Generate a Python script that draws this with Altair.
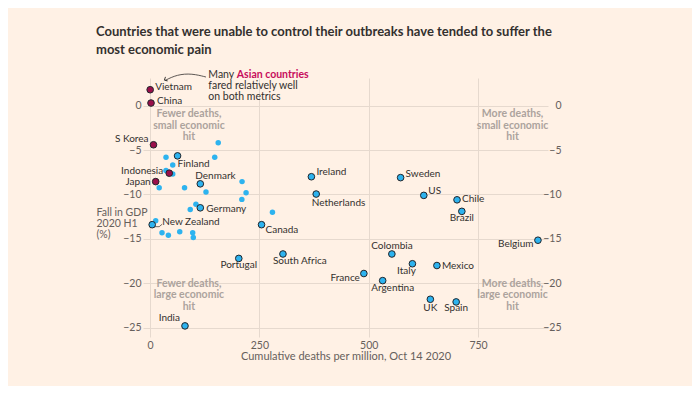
import altair as alt
import pandas as pd

# ---------------- data ----------------
countries = ["Vietnam", "China", "S Korea", "Japan", "Indonesia",
             "Finland", "Denmark", "Germany", "New Zealand", "Canada",
             "Portugal", "South Africa", "India", "Ireland", "Netherlands",
             "Sweden", "US", "Chile", "Brazil", "Belgium",
             "Colombia", "Italy", "Mexico", "France", "Argentina",
             "UK", "Spain"]
deaths = [0.4, 2.3, 8, 13, 44,
          63, 115, 115, 5, 255,
          203, 304, 80, 369, 380,
          573, 626, 702, 713, 887,
          553, 600, 656, 489, 532,
          641, 700]
gdp_fall = [1.8, 0.3, -4.4, -8.55, -7.6,
            -5.65, -8.8, -11.5, -13.4, -13.4,
            -17.2, -16.7, -24.8, -8.0, -9.95,
            -8.1, -10.1, -10.6, -11.9, -15.15,
            -16.7, -17.8, -18.0, -18.9, -19.7,
            -21.8, -22.1]
group = ["Asia"] * 5 + ["Other"] * 22

other_deaths = [156, 36.6, 148, 52, 36.6, 52, 21, 79, 128, 210.5,
                219.7, 210, 105, 92, 280, 13, 27.5, 42, 68, 97.6, 99]
other_gdp = [-4.17, -5.8, -5.8, -6.68, -7.3, -7.7, -9.23, -9.23, -9.72, -8.55,
             -9.8, -10.55, -11.1, -11.7, -12.0, -12.95, -14.3, -14.6, -14.2, -14.3, -14.85]

x_ticks = [0, 250, 500, 750]
y_ticks = [0, -5, -10, -15, -20, -25]

# label placement (align, dx px, dy px) -- styling, not data
label_pos = {
    "Vietnam": ("left", 5, -3), "China": ("left", 6, -2.5),
    "S Korea": ("right", -5, -5.5), "Japan": ("right", -5, 0),
    "Indonesia": ("right", -6, -2.5), "Finland": ("left", 0, 8),
    "Denmark": ("left", -5, -8), "Germany": ("left", 6, 1),
    "New Zealand": ("left", 10, -3), "Canada": ("left", 4, 5.5),
    "Portugal": ("center", 0, 7), "South Africa": ("left", -10, 7),
    "India": ("right", -5, -8), "Ireland": ("left", 5, -4.5),
    "Netherlands": ("left", -4.5, 8.5), "Sweden": ("left", 5, -4),
    "US": ("left", 4.5, -4), "Chile": ("left", 5, -1),
    "Brazil": ("center", 0, 7), "Belgium": ("right", -4.5, 4),
    "Colombia": ("center", 0, -7.5), "Italy": ("center", -6, 7),
    "Mexico": ("left", 5, 0), "France": ("right", -4, 4.5),
    "Argentina": ("center", 10, 7), "UK": ("center", 0, 8.5),
    "Spain": ("center", 0, 6.5),
}

# ---------------- layout ----------------
FONT = "Lato"
BG = "#fff1e5"
TEXT = "#33302e"
AXIS_TXT = "#66605c"
GRID = "#e6d9ce"
BLUE = "#2db3ef"
CLARET = "#990f4a"
PINK = "#c70d5b"
ANNOT = "#aca39d"

W, H = 405, 259
X_DOM = [-16, 910]
Y_DOM = [-26.05, 3.12]
KX = W / (X_DOM[1] - X_DOM[0])
KY = H / (Y_DOM[1] - Y_DOM[0])

xscale = alt.Scale(domain=X_DOM, nice=False, zero=False)
yscale = alt.Scale(domain=Y_DOM, nice=False, zero=False)

main = pd.DataFrame({"country": countries, "deaths": deaths, "gdp": gdp_fall, "group": group})
others = pd.DataFrame({"deaths": other_deaths, "gdp": other_gdp})

lab = main.copy()
lab["align"] = [label_pos[c][0] for c in lab.country]
lab["lx"] = [d + label_pos[c][1] / KX for c, d in zip(lab.country, lab.deaths)]
lab["ly"] = [g - label_pos[c][2] / KY for c, g in zip(lab.country, lab.gdp)]

x_axis = alt.Axis(values=x_ticks, grid=True, gridColor=GRID, ticks=False, domain=False,
                  orient="bottom",
                  labelColor=AXIS_TXT, labelFont=FONT, labelFontSize=10.5, labelPadding=3,
                  title="Cumulative deaths per million, Oct 14 2020", titleColor=AXIS_TXT,
                  titleFont=FONT, titleFontSize=11, titleFontWeight="normal", titlePadding=0)
y_left = alt.Axis(values=y_ticks, grid=True, gridColor=GRID, ticks=False, domain=False,
                  orient="left", labelColor=AXIS_TXT, labelFont=FONT, labelFontSize=10.5,
                  labelPadding=2,
                  title=["Fall in GDP", "2020 H1", "(%)"], titleAngle=0, titleAlign="left",
                  titleBaseline="top", titleX=-47, titleY=129, titleColor=AXIS_TXT,
                  titleFont=FONT, titleFontSize=10.5, titleFontWeight="normal",
                  titleLineHeight=11)
y_right = alt.Axis(values=y_ticks, grid=False, ticks=False, domain=False, orient="right",
                   labelColor=AXIS_TXT, labelFont=FONT, labelFontSize=10.5,
                   labelAlign="right", labelPadding=13, title=None)

def X(field, axis=None):
    return alt.X(field, type="quantitative", scale=xscale, axis=axis)

def Y(field, axis=None):
    return alt.Y(field, type="quantitative", scale=yscale, axis=axis)

# background points (unlabelled)
bg_pts = alt.Chart(others).mark_circle(size=30, color=BLUE, opacity=1).encode(
    x=X("deaths", x_axis), y=Y("gdp", y_left))

right_axis = alt.Chart(others).mark_circle(opacity=0).encode(
    x=X("deaths"), y=Y("gdp", y_right))

main_pts = alt.Chart(main).mark_point(filled=True, size=44, stroke="#20252b",
                                      strokeWidth=1, opacity=1).encode(
    x=X("deaths"), y=Y("gdp"),
    fill=alt.Fill("group:N", scale=alt.Scale(domain=["Asia", "Other"], range=[CLARET, BLUE]),
                  legend=None))

label_layers = []
for a in ["left", "center", "right"]:
    label_layers.append(
        alt.Chart(lab[lab["align"] == a]).mark_text(
            align=a, baseline="middle", font=FONT, fontSize=10, color=TEXT
        ).encode(x=X("lx"), y=Y("ly"), text="country:N"))

# quadrant annotations
quad = pd.DataFrame({
    "x": [89, 89, 829, 829],
    "y": [-0.42, -19.48, -0.42, -19.48],
    "t": ["Fewer deaths,\nsmall economic\nhit", "Fewer deaths,\nlarge economic\nhit",
          "More deaths,\nsmall economic\nhit", "More deaths,\nlarge economic\nhit"],
})
quad_txt = alt.Chart(quad).mark_text(
    align="center", baseline="top", lineBreak="\n", lineHeight=11.5, font=FONT,
    fontSize=10.5, fontWeight="bold", color=ANNOT
).encode(x=X("x"), y=Y("y"), text="t:N")

# Asian countries annotation
ann = pd.DataFrame({"x": [133.3], "y": [3.98], "t": ["Many\nfared relatively well\non both metrics"]})
ann_txt = alt.Chart(ann).mark_text(
    align="left", baseline="top", lineBreak="\n", lineHeight=10.8, font=FONT,
    fontSize=10.5, color=TEXT
).encode(x=X("x"), y=Y("y"), text="t:N")
ann2 = pd.DataFrame({"x": [198.5], "y": [3.98], "t": ["Asian countries"]})
ann2_txt = alt.Chart(ann2).mark_text(
    align="left", baseline="top", font=FONT, fontSize=10.5, fontWeight="bold", color=PINK
).encode(x=X("x"), y=Y("y"), text="t:N")

arrow = pd.DataFrame({"x": [128, 96, 61.7, 34.3], "y": [3.23, 3.63, 3.51, 2.84], "o": [0, 1, 2, 3]})
arrow_line = alt.Chart(arrow).mark_line(interpolate="basis", color=TEXT, strokeWidth=0.8,
                                        clip=False).encode(
    x=X("x"), y=Y("y"), order="o:Q")
head = pd.DataFrame({"x": [33.0], "y": [2.9]})
arrow_head = alt.Chart(head).mark_point(shape="M -1 1 L 0 0 L 1 1", filled=False,
                                        size=22, angle=243, color=TEXT, strokeWidth=0.9,
                                        opacity=1).encode(x=X("x"), y=Y("y"))

# small leader line under "New Zealand"
nz = pd.DataFrame({"x": [5 + 2 / KX, 5 + 7 / KX, 5 + 10 / KX],
                   "y": [-13.4 - 2 / KY, -13.4 - 2 / KY, -13.4 + 0.5 / KY], "o": [0, 1, 2]})
nz_line = alt.Chart(nz).mark_line(color=TEXT, strokeWidth=0.7).encode(
    x=X("x"), y=Y("y"), order="o:Q")

chart = alt.layer(
    bg_pts, right_axis, nz_line, main_pts, *label_layers, quad_txt, ann_txt, ann2_txt,
    arrow_line, arrow_head
).resolve_axis(x="independent", y="independent").properties(
    width=W, height=H,
    title=alt.Title(
        ["Countries that were unable to control their outbreaks have tended to suffer the",
         "most economic pain"],
        anchor="start", frame="group", orient="top", dx=-47, offset=0, baseline="bottom",
        font=FONT, fontSize=13, fontWeight="bold", color=TEXT, lineHeight=18),
    autosize=alt.AutoSizeParams(type="none"),
    padding={"left": 135, "top": 70, "right": 144, "bottom": 49},
    background=BG,
).configure_view(stroke=None)

chart.save("out.html", embed_options={"renderer": "svg", "actions": False})
